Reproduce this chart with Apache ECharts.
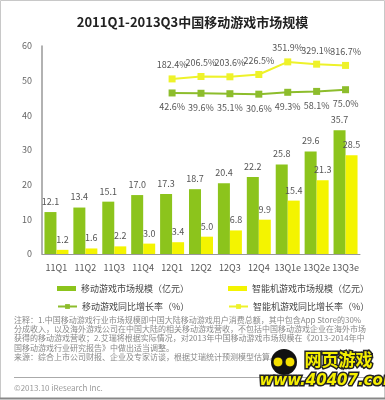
<!DOCTYPE html>
<html><head><meta charset="utf-8">
<script src="https://cdn.jsdelivr.net/npm/echarts@6/dist/echarts.min.js"></script>
<style>html,body{margin:0;padding:0;background:#fff}#c{width:385px;height:400px}</style>
</head><body><div id="c"></div>
<script>
const categories = ['11Q1','11Q2','11Q3','11Q4','12Q1','12Q2','12Q3','12Q4','13Q1e','13Q2e','13Q3e'];
const mobileMarket = [12.1,13.4,15.1,17.0,17.3,18.7,20.4,22.2,25.8,29.6,35.7];
const smartMarket = [1.2,1.6,2.2,3.0,3.4,5.0,6.8,9.9,15.4,21.3,28.5];
const mobileGrowth = [null,null,null,null,42.6,39.6,35.1,30.6,49.3,58.1,75.0];
const smartGrowth = [null,null,null,null,182.4,206.5,203.6,226.5,351.9,329.1,316.7];
const yTicks = [0,10,20,30,40,50,60];
const seriesNames = ['移动游戏市场规模（亿元）','智能机游戏市场规模（亿元）','移动游戏同比增长率（%）','智能机游戏同比增长率（%）'];
const noteLines = [
 '注释：1.中国移动游戏行业市场规模即中国大陆移动游戏用户消费总额，其中包含App Store的30%',
 '分成收入，以及海外游戏公司在中国大陆的相关移动游戏营收，不包括中国移动游戏企业在海外市场',
 '获得的移动游戏营收；2.艾瑞将根据实际情况，对2013年中国移动游戏市场规模在《2013-2014年中',
 '国移动游戏行业研究报告》中做出适当调整。',
 '来源：综合上市公司财报、企业及专家访谈，根据艾瑞统计预测模型估算。'
];
const GREEN = '#8cc41c', YELLOW = '#f4f400', LGREEN = '#8dbd2c', LYELLOW = '#eef22a';
const FONT = '"Noto Sans CJK SC", "Noto Sans", sans-serif';
const chart = echarts.init(document.getElementById('c'));
const legendBase = {itemWidth:19, itemHeight:5, itemGap:0, textStyle:{fontSize:9, color:'#444', fontFamily:FONT}, selectedMode:false};
const graphics = [
  {type:'rect', shape:{x:0.5,y:0.5,width:384,height:398}, style:{fill:'none', stroke:'#c8c8c8', lineWidth:1}},
  {type:'line', shape:{x1:0,y1:398.5,x2:385,y2:398.5}, style:{stroke:'#888', lineWidth:2}},
  {type:'line', shape:{x1:14,y1:377.5,x2:372,y2:377.5}, style:{stroke:'#aaa', lineWidth:1}},
  {type:'text', left:14, top:384, style:{text:'©2013.10 iResearch Inc.', fill:'#999', font:'8px '+FONT}}
];
noteLines.forEach((t,i)=>graphics.push({type:'text', left:14, top:316+i*9.2, style:{text:t, fill:'#888', font:'8px '+FONT}}));
// watermark approximation
graphics.push({type:'circle', shape:{cx:284,cy:362,r:13}, style:{fill:'#111'}});
graphics.push({type:'circle', shape:{cx:278,cy:362,r:5}, style:{fill:'#f5e000', stroke:'#111'}});
graphics.push({type:'circle', shape:{cx:290,cy:362,r:5}, style:{fill:'#f5e000', stroke:'#111'}});
graphics.push({type:'text', left:303, top:350, style:{text:'网页游戏', fill:'#f5ef00', stroke:'#222', lineWidth:3, font:'bold 17px '+FONT}});
graphics.push({type:'text', left:258, top:372, style:{text:'www.40407.com', fill:'#f5ef00', stroke:'#222', lineWidth:3, font:'italic bold 15px "DejaVu Sans", sans-serif'}});

chart.setOption({
  animation:false,
  backgroundColor:'#fff',
  title:{text:'2011Q1-2013Q3中国移动游戏市场规模', left:'center', top:11, textStyle:{fontSize:13, fontWeight:'bold', color:'#222', fontFamily:FONT}},
  grid:{left:42, right:25, top:46, bottom:146, containLabel:false},
  legend:[
    Object.assign({}, legendBase, {left:52, top:279, data:[{name:seriesNames[0], icon:'rect'}]}),
    Object.assign({}, legendBase, {left:223, top:279, data:[{name:seriesNames[1], icon:'rect'}]}),
    Object.assign({}, legendBase, {left:52, top:297, itemHeight:6, data:[{name:seriesNames[2]}]}),
    Object.assign({}, legendBase, {left:223, top:297, itemHeight:6, data:[{name:seriesNames[3]}]})
  ],
  xAxis:{type:'category', data:categories, boundaryGap:true,
    axisLine:{lineStyle:{color:'#999', width:1}}, axisTick:{show:false},
    axisLabel:{fontSize:9, color:'#555', margin:9, interval:0, fontFamily:FONT}},
  yAxis:[
    {type:'value', min:0, max:60, interval:10, splitLine:{show:false},
     axisLine:{show:true, lineStyle:{color:'#999', width:1.5}}, axisTick:{show:false},
     axisLabel:{fontSize:9, color:'#666', margin:10, fontFamily:FONT,
       formatter:v=>yTicks.includes(v)?String(v):''}},
    {type:'value', min:-1560, max:510, show:false, splitLine:{show:false}}
  ],
  series:[
    {name:seriesNames[0], type:'bar', data:mobileMarket, barWidth:12, barGap:'0%', itemStyle:{color:GREEN},
     label:{show:true, position:'top', distance:6, fontSize:9, color:'#555', fontFamily:FONT, formatter:p=>p.value.toFixed(1)}},
    {name:seriesNames[1], type:'bar', data:smartMarket, barWidth:12, itemStyle:{color:YELLOW},
     label:{show:true, position:'top', distance:6, fontSize:9, color:'#555', fontFamily:FONT, formatter:p=>p.value.toFixed(1)}},
    {name:seriesNames[2], type:'line', yAxisIndex:1, data:mobileGrowth, symbol:'rect', symbolSize:7,
     lineStyle:{color:LGREEN, width:2}, itemStyle:{color:LGREEN},
     label:{show:true, position:'bottom', distance:6, fontSize:9, color:'#555', fontFamily:FONT, formatter:p=>p.value.toFixed(1)+'%'}},
    {name:seriesNames[3], type:'line', yAxisIndex:1, data:smartGrowth, symbol:'rect', symbolSize:7,
     lineStyle:{color:LYELLOW, width:2}, itemStyle:{color:LYELLOW},
     label:{show:true, position:'top', distance:6, fontSize:9, color:'#555', fontFamily:FONT, formatter:p=>p.value.toFixed(1)+'%'}}
  ],
  graphic:graphics
});
</script></body></html>
